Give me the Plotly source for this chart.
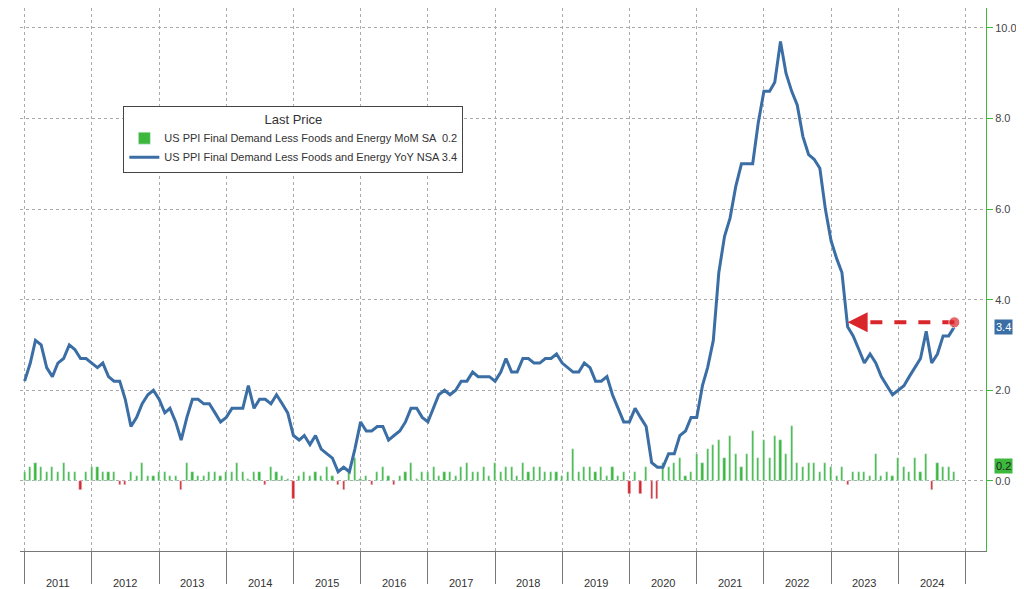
import pandas as pd
import plotly.graph_objects as go

dates = pd.date_range("2011-01-01", "2024-11-01", freq="MS")

yoy = [2.2, 2.6, 3.1, 3.0, 2.5, 2.3, 2.6, 2.7, 3.0, 2.9, 2.7, 2.7,
       2.6, 2.5, 2.6, 2.3, 2.2, 2.2, 1.8, 1.2, 1.4, 1.7, 1.9, 2.0,
       1.8, 1.5, 1.6, 1.3, 0.9, 1.4, 1.8, 1.8, 1.7, 1.7, 1.5, 1.3,
       1.4, 1.6, 1.6, 1.6, 2.1, 1.6, 1.8, 1.8, 1.7, 1.9, 1.7, 1.5,
       1.0, 0.9, 1.0, 0.8, 1.0, 0.7, 0.6, 0.5, 0.2, 0.3, 0.2, 0.7,
       1.3, 1.1, 1.1, 1.2, 1.2, 0.9, 1.0, 1.1, 1.3, 1.6, 1.6, 1.4,
       1.3, 1.6, 1.9, 2.0, 1.9, 2.0, 2.2, 2.2, 2.4, 2.3, 2.3, 2.3,
       2.2, 2.4, 2.7, 2.4, 2.4, 2.7, 2.7, 2.6, 2.6, 2.7, 2.7, 2.8,
       2.6, 2.5, 2.4, 2.4, 2.6, 2.5, 2.2, 2.2, 2.3, 1.9, 1.6, 1.3,
       1.3, 1.6, 1.4, 1.2, 0.4, 0.3, 0.3, 0.6, 0.6, 1.0, 1.1, 1.4,
       1.4, 2.1, 2.5, 3.1, 4.6, 5.4, 5.8, 6.5, 7.0, 7.0, 7.0, 7.9,
       8.6, 8.6, 8.8, 9.7, 9.0, 8.6, 8.3, 7.6, 7.2, 7.1, 6.9, 6.0,
       5.3, 4.9, 4.6, 3.4, 3.2, 2.9, 2.6, 2.8, 2.6, 2.3, 2.1, 1.9,
       2.0, 2.1, 2.3, 2.5, 2.7, 3.3, 2.6, 2.8, 3.2, 3.2, 3.4]

mom = [0.2, 0.3, 0.4, 0.3, 0.2, 0.3, 0.2, 0.4, 0.2, 0.2, -0.2, 0.2,
       0.3, 0.3, 0.2, 0.2, 0.2, -0.1, -0.1, 0.2, 0.1, 0.4, 0.1, 0.1,
       0.2, 0.2, 0.1, 0.1, -0.2, 0.4, 0.2, 0.1, 0.1, 0.2, 0.2, 0.1,
       0.2, 0.2, 0.4, 0.2, 0.05, 0.2, 0.2, -0.1, 0.3, 0.2, 0.1, 0.05,
       -0.4, 0.1, 0.2, 0.1, 0.2, 0.1, 0.3, 0.1, -0.1, -0.2, 0.2, 0.5,
       0.05, 0.1, -0.1, 0.2, 0.3, 0.1, -0.1, 0.1, 0.2, 0.4, 0.05, 0.2,
       0.2, 0.3, 0.1, 0.2, 0.2, 0.1, 0.3, 0.4, 0.2, 0.2, 0.3, 0.1,
       0.4, 0.2, 0.3, 0.3, 0.1, 0.4, 0.2, 0.3, 0.3, 0.2, 0.2, 0.2,
       0.1, 0.2, 0.7, 0.2, 0.3, 0.3, 0.2, 0.3, 0.1, 0.3, 0.1, 0.2,
       -0.3, 0.2, -0.3, 0.3, -0.4, -0.4, 0.4, 0.3, 0.4, 0.5, 0.1, 0.2,
       0.6, 0.4, 0.7, 0.8, 0.9, 0.5, 1.0, 0.6, 0.3, 0.6, 1.1, 0.5,
       0.9, 0.5, 1.0, 0.9, 0.6, 1.2, 0.4, 0.3, 0.4, 0.4, 0.2, 0.4,
       0.3, 0.1, 0.3, -0.1, 0.2, 0.2, 0.2, 0.1, 0.6, 0.1, 0.2, 0.1,
       0.5, 0.3, 0.2, 0.5, 0.2, 0.6, -0.2, 0.4, 0.3, 0.3, 0.2]

years = list(range(2011, 2025))
ytick = [0, 2, 4, 6, 8, 10]

green = "#3cb83c"
red = "#d9262b"
blue = "#3a6ea5"

fig = go.Figure()
fig.add_trace(go.Bar(
    x=dates, y=mom, width=12 * 86400000,
    marker_color=[green if v >= 0 else red for v in mom],
    name="US PPI Final Demand Less Foods and Energy MoM SA  0.2",
))
fig.add_trace(go.Scatter(
    x=dates, y=yoy, mode="lines", line=dict(color=blue, width=3),
    name="US PPI Final Demand Less Foods and Energy YoY NSA 3.4",
))

# red dashed arrow
fig.add_trace(go.Scatter(
    x=[dates[-1], dates[-18]], y=[3.5, 3.5], mode="lines+markers",
    line=dict(color=red, width=4, dash="dash"),
    marker=dict(size=[11, 0], color=red), showlegend=False,
))
fig.add_annotation(x=dates[-20], y=3.5, ax=dates[-17], ay=3.5, axref="x", ayref="y",
                   showarrow=True, arrowhead=2, arrowsize=1, arrowwidth=4,
                   arrowcolor=red, text="")

fig.add_annotation(x=1, xref="paper", y=3.4, xanchor="left", showarrow=False,
                   text="3.4", bgcolor=blue, font=dict(color="white", size=11),
                   xshift=8)
fig.add_annotation(x=1, xref="paper", y=0.25, xanchor="left", showarrow=False,
                   text="0.2", bgcolor=green, font=dict(color="#222", size=11),
                   xshift=8, yshift=3)

for yr in years:
    fig.add_annotation(x=pd.Timestamp(f"{yr}-07-01"), y=-0.045, yref="paper",
                       text=str(yr), showarrow=False, yanchor="top",
                       font=dict(size=11, color="#333"))

fig.update_xaxes(
    range=[pd.Timestamp("2010-12-07"), pd.Timestamp("2025-04-22")],
    tickvals=[pd.Timestamp(f"{y}-01-01") for y in years + [2025]],
    showticklabels=False, ticks="outside", ticklen=32, tickcolor="#777",
    showgrid=True, gridcolor="#aaa", griddash="dot",
    showline=True, linecolor="#777",
)
fig.update_yaxes(
    side="right", range=[-1.55, 10.44], tickvals=ytick,
    ticktext=[f"{v:.1f}" for v in ytick],
    showgrid=True, gridcolor="#aaa", griddash="dot", zeroline=False,
    showline=True, linecolor=green, ticks="outside", tickcolor=green, ticklen=6,
    tickfont=dict(size=11, color="#444"),
)
fig.update_layout(
    width=1024, height=589,
    margin=dict(l=12, r=46, t=0, b=46),
    plot_bgcolor="white", paper_bgcolor="white",
    font=dict(family="Arial, Liberation Sans", size=11, color="#333"),
    showlegend=True, bargap=0,
    legend=dict(x=0.107, y=0.82, xanchor="left", yanchor="top",
                bordercolor="#444", borderwidth=1, bgcolor="white",
                title=dict(text="Last Price", side="top center"),
                font=dict(size=11), itemwidth=30, tracegroupgap=0),
)
fig.write_html("out.html")
